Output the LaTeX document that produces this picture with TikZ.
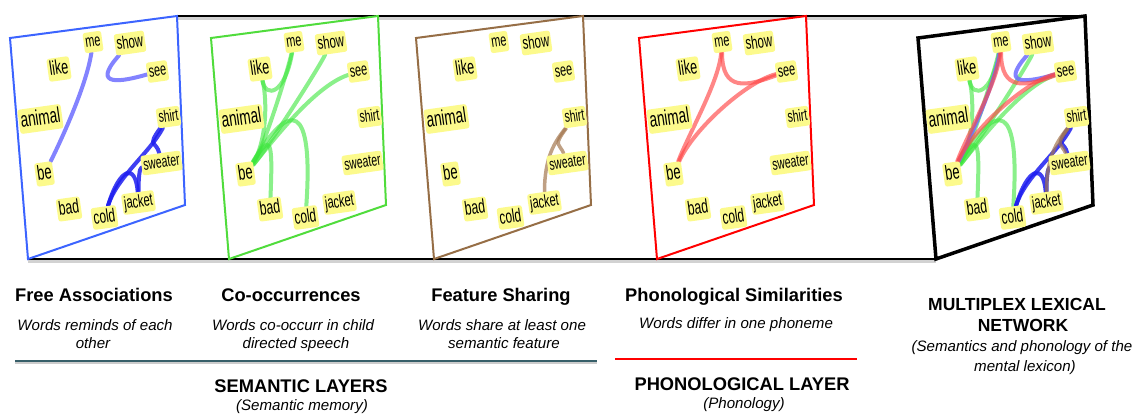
\documentclass[tikz,border=0pt]{standalone}
\usepackage{fontspec}
\setmainfont{Liberation Sans}
\newfontfamily\lblfont[FakeStretch=0.63]{Liberation Sans}
\pgfdeclarelayer{frame}
\pgfdeclarelayer{bg}
\pgfdeclarelayer{edges}
\pgfsetlayers{frame,bg,edges,main}
\definecolor{lblyellow}{RGB}{252,250,140}
\definecolor{pblue}{RGB}{60,100,255}
\definecolor{pgreen}{RGB}{80,220,60}
\definecolor{pbrown}{RGB}{150,110,70}
\definecolor{pred}{RGB}{255,0,0}
\definecolor{elblue}{RGB}{110,110,255}
\definecolor{edblue}{RGB}{30,30,240}
\definecolor{egreenc}{RGB}{60,230,60}
\definecolor{eredc}{RGB}{255,70,70}
\definecolor{ebrownc}{RGB}{165,120,80}
\definecolor{semline}{RGB}{55,95,105}
\newcommand\lw[2]{\fontsize{#1}{#1}\lblfont\rule[-0.2em]{0pt}{0.95em}#2}
\tikzset{
  lbl/.style={fill=lblyellow, rounded corners=2.5pt, inner xsep=1.8pt, inner ysep=2pt, rotate=8},
  conn/.style={line width=4pt, line cap=round},
  eblueL/.style={conn, draw=elblue, opacity=0.85},
  eblueD/.style={conn, draw=edblue, opacity=0.85},
  egreen/.style={conn, draw=egreenc, opacity=0.6},
  ered/.style={conn, draw=eredc, opacity=0.65},
  ebrown/.style={conn, line width=3.5pt, draw=ebrownc, opacity=0.7},
  ttl/.style={font=\fontsize{18.3}{22}\selectfont\bfseries, anchor=base, inner sep=0pt},
  ttlm/.style={font=\fontsize{17.5}{21}\selectfont\bfseries, anchor=base, inner sep=0pt},
  dsc/.style={font=\fontsize{15.1}{18}\selectfont\itshape, anchor=base, inner sep=0pt},
}
\newcommand\mkpanel[4]{%
\begin{scope}[shift={(#2,0)}]
 \begin{pgfonlayer}{bg}
  \draw[draw=#3, line width=#4, fill=white, line join=miter]
   (0,38) coordinate (#1TL) -- (167,16) coordinate (#1TR) -- (175,205) coordinate (#1BR)
   -- (18,259) coordinate (#1BL) -- cycle;
 \end{pgfonlayer}
 \node[lbl] (#1me) at (83,42) {\lw{17.2}{me}};
 \node[lbl] (#1show) at (120,43) {\lw{18.2}{show}};
 \node[lbl] (#1like) at (49,69) {\lw{20}{like}};
 \node[lbl] (#1see) at (147.5,71.5) {\lw{17.2}{see}};
 \node[lbl] (#1animal) at (30.5,119) {\lw{21.5}{animal}};
 \node[lbl] (#1shirt) at (158.5,117) {\lw{16.6}{shirt}};
 \node[lbl] (#1be) at (34.5,174) {\lw{20.5}{be}};
 \node[lbl] (#1sweater) at (151.5,163) {\lw{16.6}{sweater}};
 \node[lbl] (#1bad) at (59,209) {\lw{19.4}{bad}};
 \node[lbl] (#1cold) at (94.5,217.5) {\lw{18.8}{cold}};
 \node[lbl] (#1jacket) at (128.5,202.5) {\lw{17.6}{jacket}};
\end{scope}}
\newcommand\edgesFA[1]{%
 \draw[eblueL] (#1me) .. controls +(-6,40) and +(22,-45) .. (#1be);
 \draw[eblueL] (#1show) .. controls +(-40,45) and +(-35,10) .. (#1see);
 \draw[eblueD] (#1shirt) .. controls +(-18,35) and +(12,-40) .. (#1cold);
 \draw[eblueD] (#1shirt) .. controls +(-22,30) and +(-5,-22) .. (#1sweater);
 \draw[eblueD] (#1cold) .. controls +(15,-50) and +(-3,-40) .. (#1jacket);
 \draw[eblueD] (#1jacket) .. controls +(0,-25) and +(-22,5) .. (#1sweater);
}
\newcommand\edgesCO[1]{%
 \draw[egreen] (#1be) .. controls +(18,-25) and +(-6,28) .. (#1me);
 \draw[egreen] (#1be) .. controls +(22,-26) and +(-14,28) .. (#1show);
 \draw[egreen] (#1be) .. controls +(25,-30) and +(-45,15) .. (#1see);
 \draw[egreen] (#1be) .. controls +(20,-30) and +(8,35) .. (#1like);
 \draw[egreen] (#1like) .. controls +(6,30) and +(-9,52) .. (#1me);
 \draw[egreen] (#1be) .. controls +(25,-40) and +(3,-72) .. (#1bad);
 \draw[egreen] (#1be) .. controls +(45,-75) and +(8,-115) .. (#1cold);
}
\newcommand\edgesFS[1]{%
 \draw[ebrown] (#1shirt) .. controls +(-20,25) and +(0,-45) .. (#1jacket);
 \draw[ebrown] (#1shirt) .. controls +(-22,30) and +(-8,-20) .. (#1sweater);
}
\newcommand\edgesPH[1]{%
 \draw[ered] (#1me) .. controls +(-3,40) and +(15,-40) .. (#1be);
 \draw[ered] (#1me) .. controls +(0,50) and +(-40,15) .. (#1see);
 \draw[ered] (#1be) .. controls +(20,-45) and +(-40,10) .. (#1see);
}
\begin{document}
\begin{tikzpicture}[x=1pt,y=-1pt]
\useasboundingbox (0,0) rectangle (1136,413);
\mkpanel{a}{10}{pblue}{2pt}
\mkpanel{b}{211}{pgreen}{2pt}
\mkpanel{c}{416}{pbrown}{2pt}
\mkpanel{d}{639}{pred}{2pt}
\mkpanel{e}{918}{black}{3.5pt}
\begin{pgfonlayer}{frame}
 \draw[gray!35, line width=3pt] ([yshift=-2pt]aTR) -- ([yshift=-2pt]eTR);
 \draw[black, line width=1.5pt] (aTR) -- (eTR);
 \draw[gray!35, line width=3pt] ([yshift=-2pt]aBL) -- ([yshift=-2pt]eBL);
 \draw[black, line width=1.5pt] (aBL) -- (eBL);
\end{pgfonlayer}
\begin{pgfonlayer}{edges}
 \edgesFA{a}
 \edgesCO{b}
 \edgesFS{c}
 \edgesPH{d}
 \edgesCO{e}
 \edgesFA{e}
 \edgesFS{e}
 \edgesPH{e}
\end{pgfonlayer}
\node[ttl] (t1) at (94,301.5) {Free Associations};
\node[dsc] (d1a) at (95,330) {Words reminds of each};
\node[dsc] (d1b) at (93,348) {other};
\node[ttl] (t2) at (291,301.5) {Co-occurrences};
\node[dsc] (d2a) at (293,330) {Words co-occurr in child};
\node[dsc] (d2b) at (296,348) {directed speech};
\node[ttl] (t3) at (501,301.5) {Feature Sharing};
\node[dsc] (d3a) at (502,330) {Words share at least one};
\node[dsc] (d3b) at (504,348) {semantic feature};
\node[ttl] (t4) at (734,301.5) {Phonological Similarities};
\node[dsc] (d4) at (736,328.5) {Words differ in one phoneme};
\node[ttlm] (t5a) at (1017,310) {MULTIPLEX LEXICAL};
\node[ttlm] (t5b) at (1023,331) {NETWORK};
\node[dsc] (d5a) at (1022,351.5) {(Semantics and phonology of the};
\node[dsc] (d5b) at (1025,371) {mental lexicon)};
\draw[gray!40, line width=2pt] (15,362.5) -- (597,362.5);
\draw[semline, line width=2pt] (15,361) -- (597,361);
\draw[pred, line width=1.5pt] (615,359) -- (857,359);
\node[ttl] (s1) at (301,392.5) {SEMANTIC LAYERS};
\node[dsc] (s1b) at (302,410) {(Semantic memory)};
\node[ttl] (s2) at (742,390.5) {PHONOLOGICAL LAYER};
\node[dsc] (s2b) at (744,408) {(Phonology)};
\end{tikzpicture}
\end{document}
